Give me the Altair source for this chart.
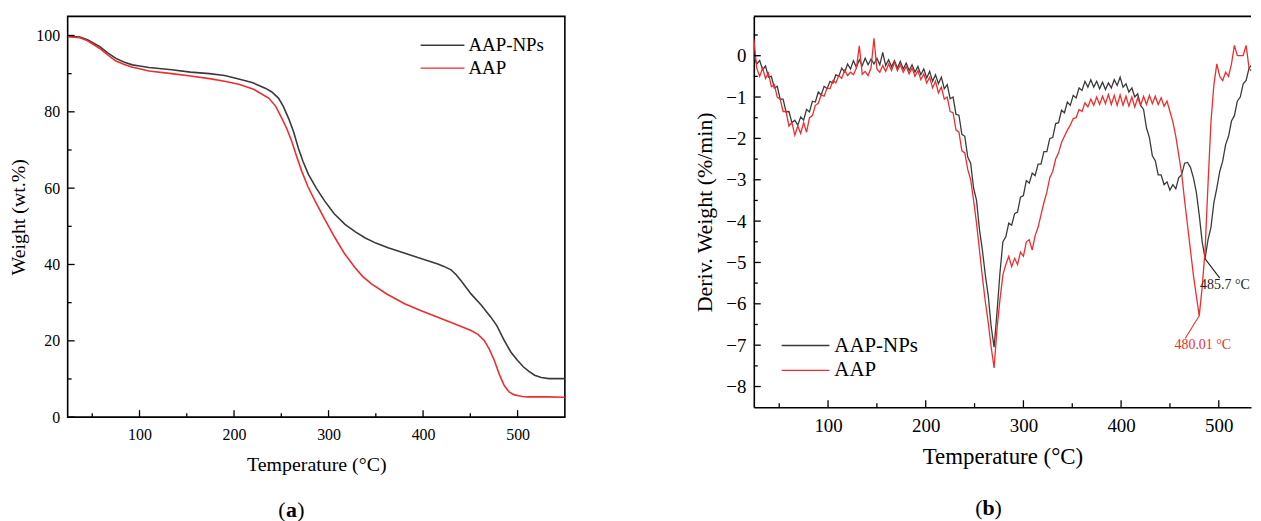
import altair as alt
import pandas as pd

FONT = "Liberation Serif"
BLACK = "#3a3a3a"
RED = "#ee2d2d"
SERIES = ["AAP-NPs", "AAP"]

# ---------------- (a) TGA ----------------
tga_np_t = [24, 37, 45, 58, 66, 75, 84, 92.5, 100, 110, 134, 154, 174, 190, 205, 220, 233, 240, 247, 252,
            257.7, 263, 268, 273, 278.7, 287, 296, 306, 317.4, 328, 338.4, 350, 363, 380, 394.5, 405, 415.6,
            422, 429.6, 435, 440, 450.7, 461, 471.7, 478, 485.8, 493, 499.8, 506, 512, 518, 525, 533, 550]
tga_np_w = [99.8, 99.6, 98.9, 97.1, 95.5, 94.0, 93.0, 92.3, 92.0, 91.6, 91.0, 90.4, 90.0, 89.5, 88.6, 87.6,
            86.2, 85.2, 83.6, 81.5, 78.3, 74.8, 70.5, 67.0, 63.6, 60.0, 56.6, 53.3, 50.5, 48.6, 47.0, 45.6,
            44.4, 43.0, 41.8, 41.0, 40.1, 39.5, 38.6, 37.3, 35.8, 32.3, 29.5, 26.2, 24.0, 20.1, 17.0, 14.9,
            13.2, 12.0, 11.0, 10.4, 10.1, 10.1]
tga_aap_t = [24, 37, 45, 58, 66, 75, 84, 92.5, 100, 110, 134, 154, 174, 190, 205, 220, 236.6, 244, 250.6, 256,
             261, 266, 271.7, 278, 285.8, 296, 306.8, 317, 327.9, 336, 345.4, 362, 380.5, 398, 415.6, 433,
             450.7, 458, 464.7, 470, 475.3, 481, 486, 491, 496, 501, 505, 510, 530, 550]
tga_aap_w = [99.7, 99.4, 98.6, 96.6, 95.0, 93.3, 92.4, 91.7, 91.3, 90.7, 90.0, 89.4, 88.7, 88.0, 87.2, 86.0,
             83.6, 81.5, 78.3, 75.5, 72.3, 68.5, 64.4, 60.5, 56.6, 51.8, 47.0, 42.8, 39.2, 36.9, 34.9, 32.2,
             29.7, 27.9, 26.2, 24.5, 22.7, 21.7, 20.1, 17.8, 14.9, 11.0, 8.2, 6.6, 5.9, 5.6, 5.4, 5.3, 5.3, 5.2]

# ---------------- (b) DTG ----------------
dtg_t = list(range(24, 544, 3))
dtg_np = [0.0, -0.2, -0.12, -0.34, -0.25, -0.52, -0.5, -0.78, -0.74, -1.05,
          -1.05, -1.36, -1.35, -1.62, -1.56, -1.68, -1.48, -1.56, -1.3, -1.36,
          -1.1, -1.12, -0.88, -0.95, -0.74, -0.8, -0.62, -0.66, -0.46, -0.5,
          -0.3, -0.4, -0.2, -0.32, -0.12, -0.28, -0.1, -0.24, -0.06, -0.22,
          -0.08, -0.2, -0.06, -0.22, 0.08, -0.24, -0.1, -0.27, -0.12, -0.3,
          -0.14, -0.32, -0.18, -0.36, -0.22, -0.4, -0.26, -0.46, -0.32, -0.54,
          -0.38, -0.62, -0.46, -0.68, -0.52, -0.8, -0.7, -1.04, -1.0, -1.42,
          -1.44, -1.9, -1.95, -2.45, -2.6, -3.2, -3.5, -4.2, -4.7, -5.3,
          -5.8, -6.55, -7.05, -6.2, -5.25, -4.5, -4.38, -4.05, -4.1, -3.82,
          -3.78, -3.42, -3.38, -3.02, -3.08, -2.84, -2.9, -2.62, -2.62, -2.32,
          -2.32, -2.0, -1.98, -1.64, -1.62, -1.32, -1.38, -1.12, -1.2, -0.96,
          -1.02, -0.78, -0.84, -0.62, -0.76, -0.58, -0.76, -0.62, -0.8, -0.64,
          -0.82, -0.66, -0.78, -0.58, -0.72, -0.52, -0.76, -0.68, -0.88, -0.78,
          -1.0, -0.92, -1.2, -1.3, -1.75, -1.98, -2.42, -2.54, -2.88, -2.88,
          -3.12, -3.05, -3.25, -3.12, -3.22, -2.95, -2.88, -2.6, -2.58, -2.7,
          -2.95, -3.3, -3.85, -4.5, -4.9, -4.45, -4.15, -3.55, -3.2, -2.8,
          -2.55, -2.15, -1.95, -1.58, -1.45, -1.1, -1.0, -0.68, -0.6, -0.3,
          -0.22, 0.05, 0.2, 0.15]
dtg_aap = [0.4, -0.3, -0.5, -0.3, -0.55, -0.42, -0.75, -0.7, -1.0, -1.05,
           -1.35, -1.35, -1.7, -1.62, -1.92, -1.7, -1.88, -1.62, -1.85, -1.5,
           -1.45, -1.2, -1.15, -0.95, -0.98, -0.78, -0.8, -0.6, -0.66, -0.48,
           -0.55, -0.35, -0.48, -0.4, -0.46, -0.3, 0.24, -0.45, -0.38, -0.48,
           -0.3, 0.42, -0.32, -0.4, -0.24, -0.38, -0.2, -0.36, -0.16, -0.36,
           -0.22, -0.4, -0.26, -0.44, -0.3, -0.5, -0.36, -0.58, -0.44, -0.66,
           -0.52, -0.78, -0.62, -0.9, -0.76, -1.05, -1.0, -1.35, -1.38, -1.8,
           -1.85, -2.3, -2.35, -2.75, -3.0, -3.5, -4.05, -4.7, -5.35, -5.95,
           -6.45, -7.05, -7.55, -6.6, -5.9, -5.3, -5.05, -4.85, -5.1, -4.9,
           -5.05, -4.75, -4.85, -4.5, -4.45, -4.7, -4.35, -4.15, -3.85, -3.55,
           -3.3, -2.95, -2.8, -2.5, -2.35, -2.1, -1.95, -1.8, -1.68, -1.52,
           -1.5, -1.3, -1.35, -1.14, -1.24, -1.05, -1.2, -1.0, -1.18, -0.98,
           -1.16, -0.94, -1.18, -0.96, -1.2, -0.95, -1.2, -0.98, -1.22, -1.0,
           -1.24, -1.02, -1.2, -0.98, -1.18, -0.96, -1.16, -0.98, -1.18, -1.02,
           -1.22, -1.1, -1.35, -1.6, -1.95, -2.4, -2.85, -3.5, -4.1, -4.7,
           -5.3, -5.8, -6.29, -5.6, -4.7, -3.1, -1.6, -0.7, -0.2, -0.5,
           -0.6, -0.4, -0.5, -0.2, 0.25, 0.0, 0.0, 0.0, 0.25, -0.3,
           -0.4, -0.2, -0.35, 0.4]

# peak annotations: (peak T, peak value, leader end T, leader end value, text T, text value, label)
peak_np = [485.7, -4.9, 501.0, -5.38, 480.9, -5.55, "485.7 °C"]
peak_aap = [480.01, -6.29, 465.6, -6.84, 454.7, -6.99, "480.01 °C"]

# axis ticks
a_x_major = [100, 200, 300, 400, 500]
a_x_minor = [50, 150, 250, 350, 450]
a_y_major = [0, 20, 40, 60, 80, 100]
a_y_minor = [10, 30, 50, 70, 90]
b_x_major = [100, 200, 300, 400, 500]
b_x_minor = [50, 150, 250, 350, 450]
b_y_major = [-8, -7, -6, -5, -4, -3, -2, -1, 0]
b_y_minor = [-7.5, -6.5, -5.5, -4.5, -3.5, -2.5, -1.5, -0.5, 0.5]

WA, HA = 500, 403
WB, HB = 500, 393


def df1(**cols):
    return pd.DataFrame(cols)


def x_ticks(vals, scale, axis, H, length):
    return alt.Chart(df1(T=vals)).mark_rule(color="black", strokeWidth=1.3).encode(
        x=alt.X("T:Q", scale=scale, axis=axis), y=alt.value(H), y2=alt.value(H - length))


def y_ticks(vals, yfield, scale, axis, length):
    return alt.Chart(df1(**{yfield: vals})).mark_rule(color="black", strokeWidth=1.3).encode(
        y=alt.Y(f"{yfield}:Q", scale=scale, axis=axis), x=alt.value(0), x2=alt.value(length))


def legend_row(label, color, x0, x1, xt, y, size):
    d = df1(s=[label])
    ln = alt.Chart(d).mark_rule(color=color, strokeWidth=1.4).encode(
        x=alt.value(x0), x2=alt.value(x1), y=alt.value(y))
    tx = alt.Chart(d).mark_text(align="left", baseline="middle", font=FONT, fontSize=size,
                                color="black").encode(x=alt.value(xt), y=alt.value(y), text="s:N")
    return [ln, tx]


def panel_label(letter, cx, y, size, half):
    base = dict(baseline="middle", font=FONT, fontSize=size, color="black")
    lp = alt.Chart(df1(s=["("])).mark_text(align="right", **base).encode(
        x=alt.value(cx - half), y=alt.value(y), text="s:N")
    lt = alt.Chart(df1(s=[letter])).mark_text(align="center", fontWeight="bold", **base).encode(
        x=alt.value(cx), y=alt.value(y), text="s:N")
    rp = alt.Chart(df1(s=[")"])).mark_text(align="left", **base).encode(
        x=alt.value(cx + half), y=alt.value(y), text="s:N")
    return [lp, lt, rp]


def make_axis(values, title, lsize, tsize, lpad, tpad, domain):
    kw = dict(values=values, format="d", title=title, ticks=False, grid=False,
              labelFont=FONT, titleFont=FONT, labelColor="black", titleColor="black",
              titleFontWeight="normal", labelFontSize=lsize, titleFontSize=tsize,
              labelPadding=lpad, titlePadding=tpad, domain=domain)
    if domain:
        kw.update(domainColor="black", domainWidth=1.6)
    return alt.Axis(**kw)


# ---------- panel (a) ----------
xa = alt.Scale(domain=[24, 550], nice=False, zero=False)
ya = alt.Scale(domain=[0, 105], nice=False, zero=False)

xa_axis = make_axis(a_x_major, "Temperature (°C)", 16, 20, 9, 13, False)
ya_axis = make_axis(a_y_major, "Weight (wt.%)", 16, 20, 8, 7, False)

np_a = alt.Chart(df1(T=tga_np_t, W=tga_np_w)).mark_line(color=BLACK, strokeWidth=1.6, clip=True).encode(
    x=alt.X("T:Q", scale=xa, axis=xa_axis), y=alt.Y("W:Q", scale=ya, axis=ya_axis))
aap_a = alt.Chart(df1(T=tga_aap_t, W=tga_aap_w)).mark_line(color=RED, strokeWidth=1.6, clip=True).encode(
    x=alt.X("T:Q", scale=xa, axis=xa_axis), y=alt.Y("W:Q", scale=ya, axis=ya_axis))

panel_a = alt.layer(
    np_a, aap_a,
    x_ticks(a_x_major, xa, xa_axis, HA, 7), x_ticks(a_x_minor, xa, xa_axis, HA, 4),
    y_ticks(a_y_major, "W", ya, ya_axis, 7), y_ticks(a_y_minor, "W", ya, ya_axis, 4),
    *legend_row(SERIES[0], BLACK, 355, 399, 403, 29, 19),
    *legend_row(SERIES[1], RED, 355, 399, 403, 52, 19),
    *panel_label("a", 225, 496, 22, 6),
).properties(width=WA, height=HA, view=alt.ViewBackground(stroke="black", strokeWidth=1.6))

# ---------- panel (b) ----------
xb = alt.Scale(domain=[24, 533], nice=False, zero=False)
yb = alt.Scale(domain=[-8.5, 0.95], nice=False, zero=False)

xb_axis = make_axis(b_x_major, "Temperature (°C)", 19, 23, 9, 11, True)
yb_axis = make_axis(b_y_major, "Deriv. Weight (%/min)", 19, 22, 8, 9, True)

np_b = alt.Chart(df1(T=dtg_t, D=dtg_np)).mark_line(color=BLACK, strokeWidth=1.3, clip=True).encode(
    x=alt.X("T:Q", scale=xb, axis=xb_axis), y=alt.Y("D:Q", scale=yb, axis=yb_axis))
aap_b = alt.Chart(df1(T=dtg_t, D=dtg_aap)).mark_line(color=RED, strokeWidth=1.3, clip=True).encode(
    x=alt.X("T:Q", scale=xb, axis=xb_axis), y=alt.Y("D:Q", scale=yb, axis=yb_axis))


def peak_layers(p, color):
    d = df1(T=[p[0]], D=[p[1]], T1=[p[2]], D1=[p[3]], Tt=[p[4]], Dt=[p[5]], s=[p[6]])
    lead = alt.Chart(d).mark_rule(color=color, strokeWidth=1.1).encode(
        x=alt.X("T:Q", scale=xb, axis=xb_axis), y=alt.Y("D:Q", scale=yb, axis=yb_axis),
        x2="T1:Q", y2="D1:Q")
    txt = alt.Chart(d).mark_text(align="left", baseline="middle", font=FONT, fontSize=14,
                                 color=color).encode(
        x=alt.X("Tt:Q", scale=xb, axis=xb_axis), y=alt.Y("Dt:Q", scale=yb, axis=yb_axis), text="s:N")
    return [lead, txt]


top_line = alt.Chart(df1(s=["top"])).mark_rule(color="black", strokeWidth=1.6).encode(
    x=alt.value(0), x2=alt.value(WB), y=alt.value(0))

panel_b = alt.layer(
    np_b, aap_b,
    x_ticks(b_x_major, xb, xb_axis, HB, 7), x_ticks(b_x_minor, xb, xb_axis, HB, 4),
    y_ticks(b_y_major, "D", yb, yb_axis, 7), y_ticks(b_y_minor, "D", yb, yb_axis, 4),
    *peak_layers(peak_np, "#222222"), *peak_layers(peak_aap, RED),
    top_line,
    *legend_row(SERIES[0], BLACK, 28, 76, 81, 331, 21),
    *legend_row(SERIES[1], RED, 28, 76, 81, 356, 21),
    *panel_label("b", 236, 494, 22, 6),
).properties(width=WB, height=HB, view=alt.ViewBackground(stroke="transparent"))

chart = alt.hconcat(panel_a, panel_b, spacing=128).properties(
    padding={"left": 0, "top": 5, "right": 0, "bottom": 0},
    background="white",
)

chart.save("out.html", embed_options={"renderer": "svg", "actions": False})
